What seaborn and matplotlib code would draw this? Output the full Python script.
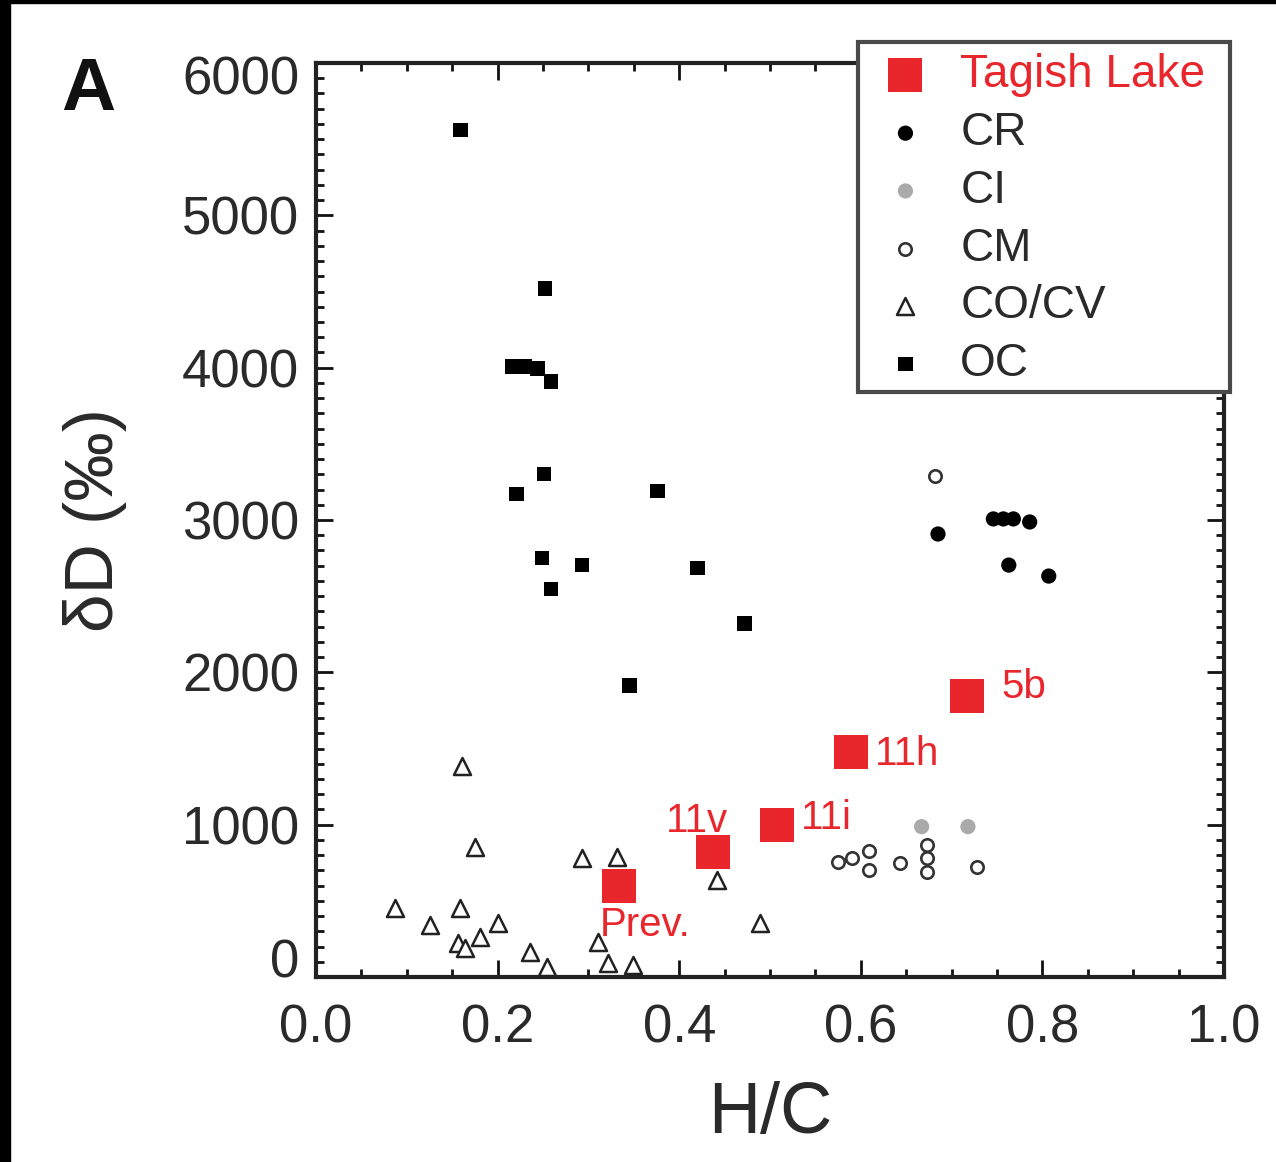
import matplotlib
matplotlib.use("Agg")
import matplotlib.pyplot as plt
import seaborn as sns
from matplotlib.ticker import MultipleLocator, FormatStrFormatter
from matplotlib.patches import Rectangle
from matplotlib.transforms import ScaledTranslation

# Tagish Lake samples
tl_hc = [0.334, 0.437, 0.508, 0.589, 0.717]
tl_dd = [599, 822, 1000, 1474, 1842]
tl_names = ["Prev.", "11v", "11i", "11h", "5b"]

# CR chondrites
cr_hc = [0.685, 0.746, 0.757, 0.768, 0.786, 0.763, 0.807]
cr_dd = [2908, 3007, 3007, 3007, 2987, 2704, 2632]

# CI chondrites
ci_hc = [0.667, 0.718]
ci_dd = [987, 987]

# CM chondrites
cm_hc = [0.575, 0.590, 0.609, 0.609, 0.643, 0.673, 0.673, 0.673, 0.728, 0.682]
cm_dd = [757, 783, 829, 704, 750, 868, 783, 691, 724, 3289]

# CO/CV chondrites
co_hc = [0.175, 0.293, 0.331, 0.442, 0.087, 0.159, 0.126, 0.200, 0.156, 0.164,
         0.181, 0.236, 0.311, 0.489, 0.322, 0.349, 0.254, 0.161]
co_dd = [855, 783, 789, 638, 454, 454, 342, 355, 224, 191,
         263, 164, 230, 355, 92, 79, 66, 1382]

# OC (ordinary chondrites)
oc_hc = [0.159, 0.252, 0.216, 0.230, 0.244, 0.259, 0.251, 0.221, 0.376, 0.249,
         0.293, 0.259, 0.420, 0.472, 0.345]
oc_dd = [5559, 4520, 4006, 4006, 3993, 3908, 3303, 3171, 3191, 2750,
         2704, 2546, 2684, 2322, 1914]

red = "#E8262C"
txt = "#2a2a2a"

sns.set_style("ticks")
plt.rcParams["font.family"] = ["Liberation Sans", "DejaVu Sans"]

fig = plt.figure(figsize=(12.76, 11.62), dpi=100)
ax = fig.add_axes([316 / 1276, 1 - 977 / 1162, 908 / 1276, 914 / 1162])

sns.scatterplot(x=co_hc, y=co_dd, ax=ax, marker="^", s=150, facecolor="white",
                edgecolor="#222222", linewidth=1.8, label="CO/CV", zorder=3)
sns.scatterplot(x=cm_hc, y=cm_dd, ax=ax, marker="o", s=80, facecolor="white",
                edgecolor="#333333", linewidth=1.9, label="CM", zorder=3)
sns.scatterplot(x=ci_hc, y=ci_dd, ax=ax, marker="o", s=120, color="#aaaaaa",
                edgecolor="none", label="CI", zorder=3)
sns.scatterplot(x=cr_hc, y=cr_dd, ax=ax, marker="o", s=120, color="black",
                edgecolor="none", label="CR", zorder=3)
sns.scatterplot(x=oc_hc, y=oc_dd, ax=ax, marker="s", s=110, color="black",
                edgecolor="none", label="OC", zorder=3)
sns.scatterplot(x=tl_hc, y=tl_dd, ax=ax, marker="s", s=600, color=red,
                edgecolor="none", label="Tagish Lake", zorder=4)

# sample labels (text offset, alignment)
lab_pos = {
    "Prev.": (-0.022, -255, "left", "center"),
    "11v": (0.017, 200, "right", "center"),
    "11i": (0.026, 45, "left", "center"),
    "11h": (0.026, -10, "left", "center"),
    "5b": (0.038, 60, "left", "center"),
}
for hc, dd, name in zip(tl_hc, tl_dd, tl_names):
    dx, dy, ha, va = lab_pos[name]
    ax.text(hc + dx, dd + dy, name, color=red, fontsize=29, ha=ha, va=va, zorder=5)

ax.set_xlim(0, 1.0)
ax.set_ylim(0, 6000)
ax.xaxis.set_major_locator(MultipleLocator(0.2))
ax.xaxis.set_minor_locator(MultipleLocator(0.05))
ax.yaxis.set_major_locator(MultipleLocator(1000))
ax.yaxis.set_minor_locator(MultipleLocator(100))
ax.xaxis.set_major_formatter(FormatStrFormatter("%.1f"))
ax.tick_params(which="both", direction="in", top=True, right=True,
               labelsize=38, labelcolor=txt, color="#111111")
ax.tick_params(axis="y", pad=12)
ax.tick_params(axis="x", pad=19)
ax.tick_params(which="major", length=12, width=2)
ax.tick_params(which="minor", length=6, width=2)
for sp in ax.spines.values():
    sp.set_linewidth(3)
    sp.set_color("#222222")
fig.canvas.draw()
for lab in ax.get_yticklabels():
    if lab.get_text() == "0":
        lab.set_va("baseline")
    if lab.get_text() == "6000":
        lab.set_transform(lab.get_transform() +
                          ScaledTranslation(0, -0.12, fig.dpi_scale_trans))

ax.set_xlabel("H/C", fontsize=52, color=txt, labelpad=20)
ax.set_ylabel("\u03b4D (\u2030)", fontsize=50, color=txt, labelpad=40)

handles, labels = ax.get_legend_handles_labels()
order = ["Tagish Lake", "CR", "CI", "CM", "CO/CV", "OC"]
hl = dict(zip(labels, handles))
leg = ax.legend([hl[k] for k in order], order, loc="upper left",
                bbox_to_anchor=(858 / 1276, 1 - 42 / 1162),
                bbox_transform=fig.transFigure, fontsize=33, frameon=False,
                borderpad=0.25, labelspacing=0.3, handletextpad=0.41,
                handlelength=1.57, borderaxespad=0)
for t in leg.get_texts():
    t.set_color(red if t.get_text() == "Tagish Lake" else txt)
leg.set_zorder(10)

# legend frame box
ax.add_patch(Rectangle((858 / 1276, 1 - 392 / 1162), 372 / 1276, 350 / 1162,
                       transform=fig.transFigure, facecolor="white",
                       edgecolor="#4a4a4a", linewidth=3, clip_on=False, zorder=9))

fig.text(88 / 1276, 1 - 90 / 1162, "A", fontsize=54, fontweight="bold",
         ha="center", va="center", color="#111111")

# dark frame remnants on left and top edges
fig.patches.append(Rectangle((0, 0), 10 / 1276, 1, transform=fig.transFigure,
                             color="black", zorder=20))
fig.patches.append(Rectangle((0, 1 - 3 / 1162), 1, 3 / 1162,
                             transform=fig.transFigure, color="black", zorder=20))

fig.savefig("out.png", dpi=100)
